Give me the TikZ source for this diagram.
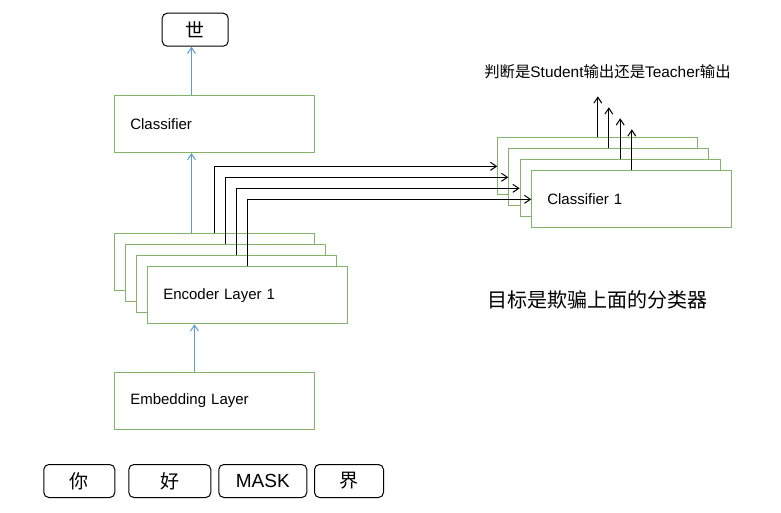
\documentclass[tikz,border=0pt]{standalone}
\usepackage{fontspec}
\setmainfont{Liberation Sans}
\newfontfamily\cjk{Noto Sans CJK SC}
\usetikzlibrary{arrows.meta,calc}
\definecolor{boxgreen}{HTML}{82B366}
\definecolor{arrblue}{HTML}{5B9BD5}
\tikzset{
  gbox/.style={draw=boxgreen, fill=white, line width=1pt, minimum height=57pt,
    text width=169pt, inner xsep=15.5pt, align=left, anchor=north west, font=\fontsize{15}{17}\selectfont},
  tok/.style={draw=black, rounded corners=5pt, line width=1pt, minimum height=33pt, anchor=north west,
    inner sep=0pt, font=\fontsize{19}{22}\selectfont},
  blarr/.style={draw=arrblue, line width=1pt, -{Straight Barb[length=6pt,width=8pt]}},
  karr/.style={draw=black, line width=1pt, -{Straight Barb[length=6pt,width=8pt]}},
}
\begin{document}
\begin{tikzpicture}[x=1pt,y=-1pt]
\useasboundingbox (0,0) rectangle (781,512);
% top token
\node[tok, minimum width=66pt] (shi) at (161.7,12.7) {\cjk 世};
% classifier
\node[gbox] (clsf) at (114.3,95) {Classifier};
% encoder stack
\node[gbox] (enc1) at (114.3,233.3) {};
\node[gbox] (enc2) at (125.3,244.3) {};
\node[gbox] (enc3) at (136.3,255.3) {};
\node[gbox] (enc4) at (147.3,266.3) {Encoder Layer 1};
% embedding
\node[gbox] (emb) at (114.3,372) {Embedding Layer};
% classifier stack
\node[gbox] (c1) at (497.3,137.3) {};
\node[gbox] (c2) at (508.3,148.3) {};
\node[gbox] (c3) at (519.7,159.3) {};
\node[gbox] (c4) at (531.3,170.3) {Classifier 1};
% bottom tokens
\node[tok, minimum width=71pt] (t1) at (43.3,464) {\cjk 你};
\node[tok, minimum width=82pt] (t2) at (128.3,464) {\cjk 好};
\node[tok, minimum width=88pt] (t3) at (218.3,464) {MASK};
\node[tok, minimum width=69pt] (t4) at (314,464) {\cjk 界};
% texts
\node[font=\fontsize{15.4}{17}\selectfont, inner sep=0pt] (qtext) at (607.5,71.5) {{\cjk 判断是}Student{\cjk 输出还是}Teacher{\cjk 输出}};
\node[font=\cjk\fontsize{20}{22}\selectfont, inner sep=0pt] (goal) at (597.5,300) {目标是欺骗上面的分类器};
% blue arrows
\coordinate (bx1) at (191.5,0);
\coordinate (bx2) at (194.5,0);
\draw[blarr] (enc1.north -| bx1) -- (clsf.south -| bx1);
\draw[blarr] (clsf.north -| bx1) -- (shi.south -| bx1);
\draw[blarr] (emb.north -| bx2) -- (enc4.south -| bx2);
% encoder to classifier connectors
\draw[karr] (enc1.north) |- (c1.west);
\draw[karr] (enc2.north) |- (c2.west);
\draw[karr] (enc3.north) |- (c3.west);
\draw[karr] (enc4.north) |- (c4.west);
% up arrows from classifiers
\coordinate (u1) at ($(c1.north)+(0,-41)$);
\coordinate (u2) at ($(c2.north)+(0,-41)$);
\coordinate (u3) at ($(c3.north)+(0,-41)$);
\coordinate (u4) at ($(c4.north)+(0,-41)$);
\draw[karr] (c1.north) -- (u1);
\draw[karr] (c2.north) -- (u2);
\draw[karr] (c3.north) -- (u3);
\draw[karr] (c4.north) -- (u4);
\end{tikzpicture}
\end{document}
